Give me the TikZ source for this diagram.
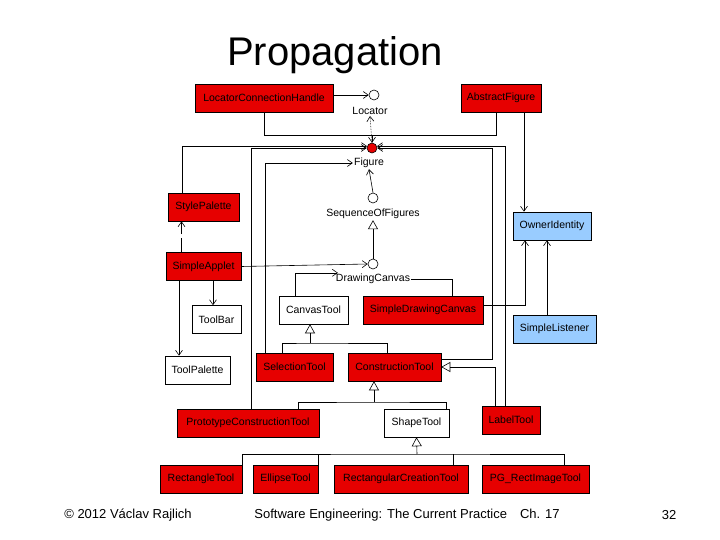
\documentclass[tikz,border=0pt]{standalone}
\usepackage{fontspec}
\setmainfont{Liberation Sans}
\usetikzlibrary{arrows.meta}

\definecolor{clsred}{RGB}{230,0,0}
\definecolor{ifblue}{RGB}{153,204,255}

\tikzset{
  box/.style={rectangle, draw, minimum height=28pt, inner sep=0pt, font=\fontsize{10.5}{12}\selectfont},
  cls/.style={box, fill=clsred},
  ifc/.style={box, fill=ifblue},
  plain/.style={box, fill=white},
  port/.style={circle, draw, minimum size=10pt, inner sep=0pt, fill=white},
  lbl/.style={inner sep=1pt, font=\fontsize{10.5}{12}\selectfont},
  arr/.style={-{Straight Barb[length=5pt,width=7pt]}},
  inh/.style={-{Triangle[open,length=9pt,width=10pt]}}
}

\begin{document}
\begin{tikzpicture}[x=1pt, y=-1pt, line width=0.6pt]
  \useasboundingbox (0,0) rectangle (720,540);

  \node (title) [font=\fontsize{40}{44}\selectfont] at (335,55) {Propagation};

  % classes and interfaces
  \node (lch) [cls, minimum width=138pt] at (264,98) {LocatorConnectionHandle};
  \node (absfig) [cls, minimum width=80pt] at (501,98) {AbstractFigure};
  \node (loc) [port] at (374,95) {};
  \node (loctext) [lbl] at (370,111) {Locator};
  \node (fig) [port, fill=clsred] at (372,148) {};
  \node (figtext) [lbl] at (369,163) {Figure};
  \node (stylepal) [cls, minimum width=71pt] at (203.5,207) {StylePalette};
  \node (seq) [port] at (373,198) {};
  \node (seqtext) [lbl] at (373,214) {SequenceOfFigures};
  \node (owner) [ifc, minimum width=78pt] at (552,226) {OwnerIdentity};
  \node (applet) [cls, minimum width=75pt] at (203.5,266.5) {SimpleApplet};
  \node (dc) [port] at (373,264) {};
  \node (dctext) [lbl] at (373,279) {DrawingCanvas};
  \node (canvastool) [plain, minimum width=69pt] at (313.5,310) {CanvasTool};
  \node (sdc) [cls, minimum width=120pt] at (423,310) {SimpleDrawingCanvas};
  \node (toolbar) [plain, minimum width=49pt] at (216.5,319.5) {ToolBar};
  \node (listener) [ifc, minimum width=83pt] at (554.5,329) {SimpleListener};
  \node (toolpal) [plain, minimum width=65pt] at (197.5,370) {ToolPalette};
  \node (selection) [cls, minimum width=77pt] at (294.5,367) {SelectionTool};
  \node (construction) [cls, minimum width=93pt] at (394.5,367) {ConstructionTool};
  \node (proto) [cls, minimum width=142pt] at (248,423) {PrototypeConstructionTool};
  \node (shape) [plain, minimum width=65pt] at (416.5,423) {ShapeTool};
  \node (labeltool) [cls, minimum width=58pt] at (511,420) {LabelTool};
  \node (rect) [cls, minimum width=82pt] at (201,479) {RectangleTool};
  \node (ellipse) [cls, minimum width=65pt] at (285.5,479) {EllipseTool};
  \node (rct) [cls, minimum width=134pt] at (401,479) {RectangularCreationTool};
  \node (pg) [cls, minimum width=107pt] at (535.5,479) {PG\_RectImageTool};

  % uses
  \draw[arr] (lch.east |- loc.west) -- (loc.west);
  \draw[arr] (lch.south) |- (372,135) -- (fig.north);
  \draw ([xshift=-5]absfig.south) |- (372,135);
  \draw[arr, densely dotted] (fig.north) -- (loctext.south);
  \draw[arr] ([xshift=-21.5]stylepal.north) |- (fig.160);
  \draw[arr] ([xshift=-6]labeltool.north) |- (fig.20);
  \draw[arr] ([xshift=3]proto.north) |- (fig.west);
  \draw[arr] ([yshift=8]construction.east) -| (492,148) -- (fig.east);
  \draw[arr] ([xshift=-29.5]selection.north) |- (figtext.west);
  \draw[arr] (seq.north) -- (figtext.south);
  \draw[inh] (dc.north) -- (seqtext.south);
  \draw[arr] (applet.east) -- (dc.west);
  \draw[arr, dash pattern=on 14pt off 4pt] ([xshift=-22]applet.north) -- ([xshift=-22]stylepal.south);
  \draw[arr] ([xshift=-18]canvastool.north) |- (dctext.170);
  \draw ([xshift=29]sdc.north) |- (dctext.east);
  \draw[arr] ([xshift=23]absfig.south) -- ([xshift=-28]owner.north);
  \draw[arr] ([yshift=5]sdc.east) -| ([xshift=-27]owner.south);
  \draw[arr] ([xshift=-7.5]listener.north) -- ([xshift=-5]owner.south);
  \draw[arr] ([xshift=9.5]applet.south) -- ([xshift=-3.5]toolbar.north);
  \draw[arr] ([xshift=-24.5]applet.south) -- ([xshift=-18.5]toolpal.north);

  % inheritance
  \draw ([xshift=-12.5]selection.north) |- (310,343) -| ([xshift=-7.5]construction.north);
  \draw[inh] (310,343) -- ([xshift=-3.5]canvastool.south);
  \draw ([xshift=50]proto.north) |- (374,402) -| ([xshift=29.5]shape.north);
  \draw[inh] (374,402) -- ([xshift=-20.5]construction.south);
  \draw[inh] ([xshift=-16]labeltool.north) |- (construction.east);
  \draw ([xshift=41]rect.north) |- (417,454) -| ([xshift=28.5]pg.north);
  \draw ([xshift=32.5]ellipse.north) -- ++(0,-11);
  \draw ([xshift=52]rct.north) -- ++(0,-11);
  \draw[inh] (417,454) -- (shape.south);

  % footer
  \node (copy) [font=\fontsize{13}{15}\selectfont] at (128,515) {© 2012 Václav Rajlich};
  \node (course) [font=\fontsize{13}{15}\selectfont] at (407,515) {Software Engineering: The Current Practice\quad Ch. 17};
  \node (page) [font=\fontsize{13}{15}\selectfont] at (669,515) {32};
\end{tikzpicture}
\end{document}
